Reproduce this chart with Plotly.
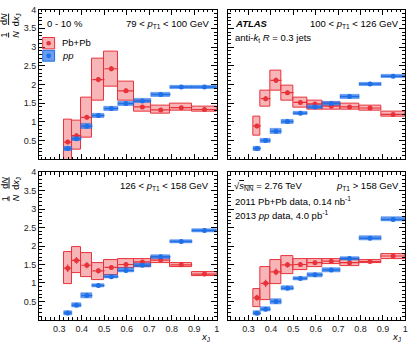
import plotly.graph_objects as go
from plotly.subplots import make_subplots

W, H = 415, 351

# --- DATA ---
xj_edges = [0.32, 0.355, 0.398, 0.447, 0.501, 0.562, 0.631, 0.708, 0.794, 0.891, 1.0]

pt_labels = ["79 < <i>p</i><sub>T1</sub> < 100 GeV", "100 < <i>p</i><sub>T1</sub> < 126 GeV",
             "126 < <i>p</i><sub>T1</sub> < 158 GeV", "<i>p</i><sub>T1</sub> > 158 GeV"]

# Pb+Pb central values, systematic box low / high, stat error
pbpb_79 = [0.46, 0.63, 1.12, 2.13, 2.42, 1.83, 1.40, 1.32, 1.38, 1.33]
pbpb_79_lo = [-0.1, 0.25, 0.59, 1.58, 1.95, 1.58, 1.27, 1.23, 1.29, 1.27]
pbpb_79_hi = [1.07, 1.04, 1.64, 2.68, 2.88, 2.07, 1.58, 1.44, 1.48, 1.42]
pbpb_79_stat = [0.06, 0.06, 0.06, 0.07, 0.07, 0.06, 0.05, 0.04, 0.04, 0.04]

pbpb_100 = [0.89, 1.62, 2.11, 1.78, 1.52, 1.48, 1.42, 1.40, 1.37, 1.20]
pbpb_100_lo = [0.64, 1.42, 1.83, 1.58, 1.38, 1.34, 1.34, 1.32, 1.30, 1.14]
pbpb_100_hi = [1.13, 1.83, 2.37, 1.98, 1.65, 1.56, 1.51, 1.48, 1.44, 1.27]
pbpb_100_stat = [0.06, 0.07, 0.07, 0.06, 0.05, 0.04, 0.04, 0.03, 0.03, 0.03]

pbpb_126 = [1.40, 1.61, 1.48, 1.33, 1.42, 1.50, 1.57, 1.62, 1.49, 1.24]
pbpb_126_lo = [0.97, 1.26, 1.15, 1.08, 1.22, 1.39, 1.42, 1.55, 1.42, 1.19]
pbpb_126_hi = [1.84, 1.96, 1.80, 1.55, 1.61, 1.64, 1.66, 1.70, 1.55, 1.30]
pbpb_126_stat = [0.10, 0.09, 0.08, 0.07, 0.06, 0.06, 0.05, 0.04, 0.04, 0.03]

pbpb_158 = [0.60, 0.99, 1.30, 1.49, 1.50, 1.55, 1.59, 1.55, 1.58, 1.73]
pbpb_158_lo = [0.35, 0.55, 0.97, 1.24, 1.35, 1.42, 1.50, 1.47, 1.53, 1.66]
pbpb_158_hi = [0.84, 1.43, 1.61, 1.72, 1.65, 1.66, 1.65, 1.63, 1.61, 1.78]
pbpb_158_stat = [0.08, 0.10, 0.09, 0.08, 0.07, 0.06, 0.05, 0.04, 0.03, 0.04]

# pp central values, systematic half-height, stat error
pp_79 = [0.29, 0.55, 0.88, 1.17, 1.36, 1.49, 1.56, 1.73, 1.93, 1.93]
pp_100 = [0.29, 0.50, 0.75, 1.01, 1.23, 1.40, 1.49, 1.68, 2.01, 2.22]
pp_126 = [0.19, 0.40, 0.66, 0.93, 1.17, 1.34, 1.48, 1.71, 2.12, 2.42]
pp_158 = [0.18, 0.29, 0.50, 0.86, 1.12, 1.22, 1.35, 1.66, 2.21, 2.72]
pp_sys = [0.05, 0.06, 0.06, 0.05, 0.05, 0.05, 0.05, 0.05, 0.05, 0.05]
pp_stat = [0.04, 0.04, 0.04, 0.04, 0.04, 0.04, 0.04, 0.04, 0.04, 0.04]

x_ticks = [0.3, 0.4, 0.5, 0.6, 0.7, 0.8, 0.9, 1.0]
x_ticktext = ["0.3", "0.4", "0.5", "0.6", "0.7", "0.8", "0.9", "1"]
y_ticks = [0.5, 1, 1.5, 2, 2.5, 3, 3.5, 4]
y_ticktext = ["0.5", "1", "1.5", "2", "2.5", "3", "3.5", "4"]

RED = "#e8323a"
RED_FILL = "rgba(240,90,95,0.45)"
BLUE = "#1f6fe6"
BLUE_FILL = "rgba(40,115,235,0.7)"
FONT = "Liberation Sans, Arial, sans-serif"

centers = [(a + b) / 2 for a, b in zip(xj_edges[:-1], xj_edges[1:])]
widths = [b - a for a, b in zip(xj_edges[:-1], xj_edges[1:])]
halfw = [w / 2 for w in widths]

panels = [
    (1, 1, pbpb_79, pbpb_79_lo, pbpb_79_hi, pbpb_79_stat, pp_79),
    (1, 2, pbpb_100, pbpb_100_lo, pbpb_100_hi, pbpb_100_stat, pp_100),
    (2, 1, pbpb_126, pbpb_126_lo, pbpb_126_hi, pbpb_126_stat, pp_126),
    (2, 2, pbpb_158, pbpb_158_lo, pbpb_158_hi, pbpb_158_stat, pp_158),
]

fig = make_subplots(rows=2, cols=2)

for r, c, pb, lo, hi, st, pp in panels:
    # Pb+Pb systematic boxes
    fig.add_trace(go.Bar(
        x=centers, base=lo, y=[h - l for h, l in zip(hi, lo)], width=widths,
        marker=dict(color=RED_FILL, line=dict(color=RED, width=1)),
        showlegend=False, hoverinfo="skip"), row=r, col=c)
    # pp systematic boxes
    fig.add_trace(go.Bar(
        x=centers, base=[v - s for v, s in zip(pp, pp_sys)], y=[2 * s for s in pp_sys],
        width=widths,
        marker=dict(color=BLUE_FILL, line=dict(color=BLUE, width=0.5)),
        showlegend=False, hoverinfo="skip"), row=r, col=c)
    fig.add_trace(go.Scatter(
        x=centers, y=pb, mode="markers",
        marker=dict(color=RED, size=5),
        error_x=dict(type="data", array=halfw, color=RED, width=0, thickness=1.2),
        error_y=dict(type="data", array=st, color=RED, width=0, thickness=1.2),
        showlegend=False), row=r, col=c)
    fig.add_trace(go.Scatter(
        x=centers, y=pp, mode="markers",
        marker=dict(color=BLUE, size=5),
        error_x=dict(type="data", array=halfw, color=BLUE, width=0, thickness=1.5),
        error_y=dict(type="data", array=pp_stat, color=BLUE, width=0, thickness=1.2),
        showlegend=False), row=r, col=c)

xL = [39.3 / W, 218.3 / W]
xR = [230.0 / W, 408.3 / W]
yT = [1 - 156.5 / H, 1 - 4.7 / H]
yB = [1 - 319.5 / H, 1 - 169.5 / H]

axis_common = dict(showline=True, linecolor="black", linewidth=1, mirror="allticks",
                   ticks="inside", tickcolor="black", showgrid=False, zeroline=False,
                   tickfont=dict(family=FONT, size=9, color="#222"))

for r, c in [(1, 1), (1, 2), (2, 1), (2, 2)]:
    fig.update_xaxes(axis_common, range=[0.21, 1.0], tickvals=x_ticks, ticktext=x_ticktext,
                     ticklen=5, tickwidth=1, showticklabels=(r == 2),
                     minor=dict(dtick=0.02, tick0=0.2, ticks="inside", ticklen=2.5,
                                tickcolor="black", showgrid=False),
                     domain=xL if c == 1 else xR, row=r, col=c)
    fig.update_yaxes(axis_common, range=[0, 4], tickvals=y_ticks, ticktext=y_ticktext,
                     ticklen=6, tickwidth=1, showticklabels=(c == 1),
                     minor=dict(dtick=0.1, tick0=0, ticks="inside", ticklen=3,
                                tickcolor="black", showgrid=False),
                     domain=yT if r == 1 else yB, row=r, col=c)


def px(x):
    return x / W


def py(y):
    return 1 - y / H


ann = []


def text(x, y, s, xa="left", size=9.5, ya="middle", angle=0):
    ann.append(dict(x=px(x), y=py(y), xref="paper", yref="paper", text=s, showarrow=False,
                    xanchor=xa, yanchor=ya, textangle=angle,
                    font=dict(family=FONT, size=size, color="black")))


text(45, 19, "0 - 10 %")
text(213, 19, pt_labels[0], xa="right")
text(235, 19, "<b><i>ATLAS</i></b>")
text(404, 19, pt_labels[1], xa="right")
text(235, 33, "anti-<i>k</i><sub>t</sub> <i>R</i> = 0.3 jets")
text(213, 184, pt_labels[2], xa="right")
text(234, 184, "√<span style='text-decoration:overline'><i>s</i><sub>NN</sub></span> = 2.76 TeV")
text(404, 184, pt_labels[3], xa="right")
text(235, 199, "2011 Pb+Pb data, 0.14 nb<sup>-1</sup>")
text(235, 213, "2013 <i>pp</i> data, 4.0 pb<sup>-1</sup>")
text(60, 38.5, "Pb+Pb")
text(60, 51.5, "<i>pp</i>")
text(214, 337, "<i>x</i><sub>J</sub>", xa="right")
text(406, 337, "<i>x</i><sub>J</sub>", xa="right")
ytitle = "<u>1</u>   <u>d<i>N</i></u><br><i>N</i>  d<i>x</i><sub>J</sub>"
text(11, 20, ytitle, xa="center", size=9, angle=-90)
text(11, 186, ytitle, xa="center", size=9, angle=-90)

# legend boxes drawn as shapes + dots
shapes = [
    dict(type="rect", xref="paper", yref="paper", x0=px(43), x1=px(55), y0=py(44.5), y1=py(33),
         fillcolor=RED_FILL, line=dict(color=RED, width=1)),
    dict(type="rect", xref="paper", yref="paper", x0=px(43), x1=px(55), y0=py(57), y1=py(46),
         fillcolor=BLUE_FILL, line=dict(color=BLUE, width=1)),
    dict(type="circle", xref="paper", yref="paper", x0=px(46.6), x1=px(51.4), y0=py(41.2), y1=py(36.4),
         fillcolor=RED, line=dict(width=0)),
    dict(type="circle", xref="paper", yref="paper", x0=px(46.6), x1=px(51.4), y0=py(53.9), y1=py(49.1),
         fillcolor=BLUE, line=dict(width=0)),
]

fig.update_layout(
    width=W, height=H, margin=dict(l=0, r=0, t=0, b=0),
    paper_bgcolor="white", plot_bgcolor="white",
    barmode="overlay", bargap=0, showlegend=False,
    annotations=ann, shapes=shapes,
    font=dict(family=FONT),
)

# the page's default body margin would push the 415x351 figure off the window
fig.write_html("out.html", config={"displayModeBar": False},
               post_script="document.body.style.margin='0';")
